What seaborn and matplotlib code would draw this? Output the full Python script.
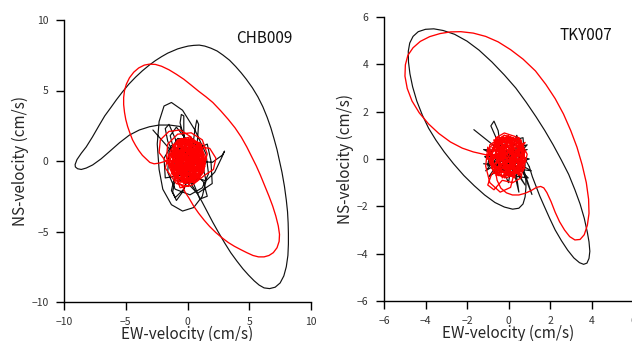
import matplotlib
matplotlib.use("Agg")
import matplotlib.pyplot as plt
import seaborn as sns
import pandas as pd

# ---------------- data (EW, NS) velocity in cm/s ----------------
stations = ["CHB009", "TKY007"]

# CHB009 - black trace: tangled core part and large orbit
chb_black_core = [(-2.8,2.2),(-1.2,0.6),(-0.2,-0.4),(0.8,-0.2),(0.6,0.9),(-0.5,1.0),(-1.1,-0.2),(-0.6,-1.4),(0.5,-1.6),(1.3,-0.7),
    (1.2,0.6),(0.3,1.5),(-0.8,1.6),(-1.5,0.6),(-1.6,-0.8),(-1.0,-2.0),(0.2,-2.4),(1.2,-1.9),(1.7,-0.9),(1.5,0.5),
    (0.6,2.2),(-0.4,3.6),(-1.3,4.15),(-1.9,3.9),(-2.3,2.8),(-2.45,1.2),(-2.3,-0.6),(-2.0,-2.0),(-1.3,-3.1),(-0.4,-3.55),
    (0.5,-3.3),(1.2,-2.5),(1.5,-1.4),(1.2,-0.2),(0.4,0.8),(-0.3,1.7),(-0.6,2.7),(-0.5,3.3),(-0.3,3.2),(-0.3,2.2),
    (-0.2,0.8),(0.0,-0.5),(0.4,0.9),(0.6,2.2),(0.75,2.9),(0.9,2.6),(0.8,1.4),(0.5,0.2),(0.1,-1.1),(-0.4,-2.2),
    (-0.9,-2.8),(-1.2,-2.2),(-0.9,-0.9),(-0.2,0.2),(0.9,0.0),(2.0,-0.1),(2.8,0.4),(3.0,0.7),(2.8,0.3),(2.2,-0.8),
    (1.5,-1.4),(0.6,-1.2),(-0.3,-0.6),(-1.0,0.3),(-1.6,1.4),(-1.8,2.3),(-1.5,2.6),(-1.0,1.6),(-0.4,0.1),(0.4,-1.4),
    (1.0,-2.7),(1.6,-2.5),(1.3,-1.5),(0.4,-0.6),(-0.4,-0.2),(-1.0,-0.9),(-1.3,-2.1),(-1.0,-2.6),(-0.3,-2.0),(0.2,-0.9),
    (-1.8,-1.2),(-1.9,0.2),(-1.3,1.1),(0.1,0.6),(1.6,1.2),(1.9,0.0),(2.0,-1.6),(0.8,-2.3),(-0.6,-1.0),(-1.4,1.8),
    (-0.9,2.4),(0.2,1.2),(0.2,-0.2),(-0.2,1.6),(-0.6,2.45)]
chb_black_orbit = [(-0.6,2.45),(-1.46,2.55),(-2.3,2.55),(-3.08,2.43),(-3.9,2.2),(-4.7,1.84),(-5.5,1.3),(-6.33,0.66),(-7.0,0.15),
    (-7.68,-0.28),(-8.2,-0.5),(-8.6,-0.6),(-8.9,-0.55),(-9.08,-0.42),(-9.1,-0.25),(-8.95,0.1),(-8.6,0.55),(-8.2,1.0),(-7.7,1.7),
    (-7.14,2.55),(-6.7,3.2),(-6.2,3.8),(-5.75,4.35),(-5.25,4.92),(-4.75,5.45),(-4.2,5.95),(-3.65,6.4),(-3.08,6.81),(-2.6,7.12),
    (-2.1,7.4),(-1.6,7.65),(-1.2,7.8),(-0.8,7.95),(-0.4,8.05),(0.05,8.15),(0.5,8.2),(0.95,8.22),(1.4,8.15),(1.9,8.0),
    (2.4,7.8),(2.86,7.52),(3.4,7.15),(3.9,6.7),(4.35,6.25),(4.76,5.8),(5.25,5.2),(5.7,4.55),(6.1,3.85),(6.45,3.1),
    (6.75,2.35),(7.0,1.6),(7.25,0.8),(7.45,0.0),(7.65,-0.8),(7.85,-1.8),(8.0,-2.77),(8.1,-3.6),(8.15,-4.4),(8.17,-5.13),
    (8.17,-5.9),(8.13,-6.7),(8.0,-7.5),(7.8,-8.15),(7.5,-8.65),(7.1,-8.95),(6.65,-9.05),(6.2,-9.0),(5.8,-8.8),(5.4,-8.5),
    (4.95,-8.1),(4.49,-7.65),(4.0,-7.1),(3.5,-6.5),(3.0,-5.8),(2.5,-5.05),(2.05,-4.35),(1.6,-3.6),(1.15,-2.85),(0.75,-2.25),
    (0.43,-1.82),(0.0,-1.0),(-0.5,0.0)]

# CHB009 - red trace
chb_red_core = [(-1.2,0.3),(-0.6,1.4),(0.5,1.5),(1.2,0.6),(1.1,-0.7),(0.3,-1.4),(-0.8,-1.2),(-1.3,-0.2),(-0.9,0.9),(0.1,1.3),
    (0.9,0.9),(1.3,-0.1),(0.8,-1.1),(-0.3,-1.5),(-1.1,-0.8),(-1.2,0.5),(-0.4,1.5),(0.7,1.3),(1.2,0.2),(0.6,-0.6),
    (-0.2,-0.2),(-0.9,0.4),(-0.7,1.1),(0.2,0.9),(0.6,0.1),(0.2,-0.9),(-0.7,-0.9),(-1.0,0.0),(-0.5,0.8),(0.4,0.6),
    (0.8,-0.3),(0.4,-1.2),(-0.5,-1.3),(-1.3,-0.6),(-1.1,0.7),(-0.2,1.6),(0.9,1.2),(1.3,0.3),(1.0,-0.9),(0.0,-1.2),
    (-0.8,-0.4),(-0.6,0.5),(0.1,0.6),(0.5,-0.2),(0.0,-0.7),(-0.6,-0.2),(-0.3,0.4),(0.3,0.3),(0.2,-0.4),(-0.3,-0.5),
    (-1.0,-1.2),(-1.4,0.1),(-0.9,1.3),(0.3,1.6),(1.1,1.0),(1.4,-0.4),(0.6,-1.4),(-0.6,-1.5),(-1.2,-0.9),(-0.5,-0.1),
    (0.3,0.8),(1.0,0.4),(0.9,-0.6),(0.1,-1.0),(-0.7,-0.6),(-0.8,0.6),(0.0,1.1),(0.7,0.7),(0.7,-0.4),(-0.1,-0.4),
    (-1.0,0.9),(-0.3,1.2),(0.6,1.0),(1.1,-0.3),(0.5,-1.0),(-0.4,-1.0),(-1.1,-0.3),(-1.3,0.6),(-0.7,1.5),(0.4,1.2),
    (1.2,0.9),(1.3,-0.7),(0.8,-1.4),(-0.2,-1.3),(-0.9,-0.7),(-0.4,0.1),(0.4,0.1),(0.6,-0.7),(0.0,-1.5),(-0.9,-1.4),
    (-1.4,-0.4),(-1.1,0.4),(-0.4,0.9),(0.5,0.4),(0.3,-0.3),(-0.4,-0.8),(-0.9,-0.1),(-0.5,0.6),(0.2,1.4),(1.0,1.3),
    (1.4,0.1),(1.0,-0.4),(0.2,-0.6),(-0.5,0.2),(-1.2,1.1),(-0.5,1.6),(0.3,1.0),(0.9,-0.1),(0.9,-1.0),(0.2,-1.3),
    (-0.6,-0.9),(-1.2,-0.1),(-1.0,0.6),(-0.1,0.7),(0.8,0.9),(1.2,-0.5),(0.4,-1.5),(-0.7,-1.2),(-1.3,-0.9),(-0.8,0.2),
    (0.0,0.3),(0.6,0.5),(0.1,-0.1),(-0.4,-0.3)]
chb_red_chords = [(1.3,0.4),(-1.1,-0.6),(0.2,1.5),(0.4,-1.4),(-1.3,0.8),(1.2,-0.9),(-0.5,1.5),(-0.3,-1.5),(1.3,1.0),(-1.4,-0.2),
    (0.8,1.4),(0.9,-1.3),(-1.2,1.2),(0.0,-1.1),(1.0,0.8),(-1.0,-1.3),(-0.1,1.2),(1.4,-0.2),(-1.3,0.3),(0.6,-0.9),
    (-0.6,1.0),(1.1,0.1),(-0.8,-0.9),(0.3,1.1),(0.5,-1.5),(-1.2,-0.4),(0.9,1.1),(-0.2,-1.0),(-0.9,1.4),(1.3,-0.6),
    (-0.7,-0.5),(0.7,0.3),(-0.4,-1.4),(-1.1,1.0),(1.0,-1.2),(0.1,1.6),(-1.4,0.5),(0.8,-0.2),(-0.2,0.5),(1.2,1.2),
    (-1.0,-1.0),(0.4,1.4),(0.2,-1.3),(-1.3,-0.1),(1.2,0.5),(-0.5,-1.2),(-0.7,0.8),(1.1,-0.8),(0.0,1.4),(-1.2,0.6)]
chb_red_loops = [(-0.38,-1.82),(-1.0,-1.3),(-1.5,-0.4),(-1.4,0.7),(-0.8,1.5),(0.2,1.7),(1.0,1.2),(1.5,0.2),(1.3,-0.8),(0.6,-1.5),
    (-0.3,-1.6),(-0.5,-1.0),(-1.6,-0.2),(-2.3,0.6),(-2.2,1.5),(-1.5,2.1),(-0.6,2.2),(0.3,1.7),(0.6,0.6),(0.1,-0.6),
    (-0.8,-1.4),(-0.6,-1.9),(0.4,-1.7),(1.4,-1.0),(2.1,-0.6),(2.3,0.2),(1.8,0.9),(0.8,1.0),(-0.3,0.3),(-1.2,-0.5),
    (-1.7,0.2),(-1.6,1.2),(-0.8,1.9),(0.3,2.0),(1.2,1.5),(1.6,0.5),(1.3,-0.5),(0.3,-1.0),(0.1,-1.8),(-0.9,-1.6),
    (-1.8,-0.5),(-1.5,0.5),(-0.6,-0.3),(-1.5,0.1)]
chb_red_orbit = [(-1.5,0.1),(-1.9,-0.05),(-2.3,-0.15),(-2.7,-0.2),(-3.05,-0.1),(-3.35,0.15),(-3.65,0.4),(-3.95,0.75),(-4.2,1.1),
    (-4.45,1.5),(-4.65,1.95),(-4.85,2.45),(-5.0,2.95),(-5.1,3.45),(-5.17,4.0),(-5.17,4.5),(-5.1,5.0),(-4.95,5.45),(-4.7,5.9),
    (-4.35,6.3),(-3.95,6.6),(-3.5,6.8),(-3.08,6.87),(-2.6,6.85),(-2.1,6.72),(-1.5,6.47),(-0.9,6.15),(-0.3,5.8),(0.3,5.38),
    (0.9,4.95),(1.5,4.55),(2.05,4.15),(2.7,3.55),(3.3,2.95),(3.85,2.35),(4.35,1.7),(4.8,1.0),(5.2,0.3),(5.57,-0.35),
    (5.9,-1.0),(6.25,-1.75),(6.6,-2.5),(6.9,-3.2),(7.15,-3.9),(7.35,-4.6),(7.45,-5.2),(7.42,-5.7),(7.25,-6.15),(6.95,-6.5),
    (6.6,-6.7),(6.2,-6.8),(5.75,-6.8),(5.3,-6.7),(4.8,-6.5),(4.3,-6.28),(3.8,-6.05),(3.3,-5.78),(2.8,-5.45),(2.3,-5.08),
    (1.8,-4.65),(1.35,-4.2),(0.9,-3.7),(0.5,-3.2),(0.1,-2.6),(-0.2,-2.2),(-0.38,-1.82)]

# TKY007 - black trace
tky_black_core = [(-1.67,1.24),(0.1,0.0),(1.1,-0.5),(0.3,-0.4),(-1.2,-0.2),(0.0,-0.3),(0.9,0.6),(-0.3,0.3),(-1.1,-0.5),(0.2,0.2),
    (1.0,0.0),(0.3,-0.2),(0.5,-1.4),(0.2,-0.3),(-0.6,0.9),(-0.85,1.4),(-0.7,1.6),(-0.5,1.2),(-0.4,0.6),(-0.2,-0.6),
    (0.0,-1.0),(0.2,0.1),(0.6,0.7),(-0.9,0.3),(-1.0,-0.3),(0.4,0.4),(1.13,-1.5),(0.5,-0.1),(-0.2,0.7),(0.7,0.9),
    (0.8,-0.3),(-0.7,-0.6),(-0.3,0.0),(0.9,0.4),(-1.15,0.1),(0.1,-0.7),(0.95,-0.8),(-0.2,0.2),(-0.95,-0.75),(0.6,0.2),
    (0.4,1.0),(0.0,0.1),(0.8,-1.1),(0.1,-0.2),(-1.2,0.4),(0.6,0.3),(1.0,-0.32)]
tky_black_orbit = [(1.0,-0.32),(1.15,-0.75),(1.33,-1.16),(1.5,-1.55),(1.7,-1.95),(1.98,-2.5),(2.25,-3.0),(2.55,-3.45),(2.85,-3.85),
    (3.15,-4.18),(3.42,-4.38),(3.62,-4.45),(3.78,-4.4),(3.88,-4.2),(3.92,-3.9),(3.88,-3.5),(3.8,-3.1),(3.65,-2.5),(3.45,-1.9),
    (3.2,-1.3),(2.9,-0.65),(2.55,-0.05),(2.15,0.6),(1.75,1.2),(1.33,1.78),(0.85,2.4),(0.35,3.0),(-0.2,3.55),(-0.8,4.1),
    (-1.42,4.6),(-2.0,4.98),(-2.6,5.27),(-3.15,5.43),(-3.6,5.5),(-4.0,5.48),(-4.35,5.38),(-4.6,5.18),(-4.76,4.9),(-4.83,4.55),
    (-4.82,4.1),(-4.75,3.6),(-4.62,3.05),(-4.42,2.45),(-4.15,1.85),(-3.85,1.3),(-3.5,0.8),(-3.1,0.3),(-2.65,-0.2),(-2.15,-0.7),
    (-1.65,-1.13),(-1.15,-1.52),(-0.65,-1.84),(-0.2,-2.03),(0.2,-2.12),(0.5,-2.08),(0.7,-1.9),(0.8,-1.6),(0.84,-1.2),(0.84,-0.88),
    (0.6,-0.2),(-0.5,0.4),(0.2,-0.5),(0.0,0.2)]

# TKY007 - red trace
tky_red_core = [(-0.8,0.4),(-0.3,0.9),(0.4,0.8),(0.7,0.2),(0.5,-0.5),(-0.1,-0.6),(-0.7,-0.3),(-0.8,0.3),(-0.4,0.8),(0.2,0.9),
    (0.7,0.5),(0.7,-0.2),(0.2,-0.6),(-0.5,-0.5),(-0.9,0.0),(-0.6,0.7),(0.1,0.7),(0.5,0.1),(0.2,-0.4),(-0.4,-0.2),
    (-0.5,0.4),(0.0,0.5),(0.4,-0.1),(-0.1,-0.5),(-0.6,-0.1),(-0.3,0.6),(0.5,0.7),(0.8,0.0),(0.4,-0.6),(-0.3,-0.7),
    (-0.8,-0.4),(-0.9,0.5),(-0.2,1.0),(0.6,0.8),(0.8,-0.1),(0.3,-0.5),(-0.2,-0.3),(-0.4,0.2),(0.1,0.3),(0.3,-0.2),
    (-0.7,0.8),(-0.1,0.8),(0.6,0.4),(0.6,-0.5),(-0.1,-0.8),(-0.7,-0.6),(-1.0,0.1),(-0.5,0.5),(0.2,0.5),(0.3,0.0),
    (-0.2,-0.1),(-0.6,0.3),(-0.2,0.9),(0.4,0.6),(0.7,-0.3),(0.1,-0.7),(-0.5,-0.7),(-0.8,-0.1),(-0.4,0.7),(0.3,0.8),
    (0.8,0.3),(0.5,-0.3),(-0.1,-0.3),(-0.5,0.1),(-0.1,0.4),(0.2,0.1),(-0.3,-0.4),(-0.9,-0.2),(-0.6,0.9),(0.0,0.9),
    (0.5,0.5),(0.1,-0.1),(-0.4,0.0)]
tky_red_chords = [(0.8,0.3),(-0.7,-0.4),(0.1,0.95),(0.3,-0.75),(-0.8,0.5),(0.7,-0.5),(-0.3,0.95),(-0.2,-0.8),(0.8,0.7),(-0.9,-0.1),
    (0.5,0.9),(0.5,-0.7),(-0.7,0.8),(0.0,-0.6),(0.6,0.5),(-0.6,-0.7),(-0.1,0.8),(0.85,-0.1),(-0.8,0.2),(0.4,-0.5),
    (-0.4,0.7),(0.7,0.1),(-0.5,-0.5),(0.2,0.7),(0.3,-0.8),(-0.8,-0.3),(0.6,0.8),(-0.1,-0.6),(-0.6,0.9),(0.8,-0.4),
    (-0.4,-0.3),(0.4,0.2),(-0.3,-0.8),(-0.7,0.6),(0.6,-0.7),(0.0,1.0),(-0.9,0.3)]
tky_red_loops = [(-0.61,-0.6),(-0.9,0.2),(-1.0,0.5),(-1.1,-0.3),(-0.9,-1.0),(-0.4,-1.4),(0.1,-1.2),(0.3,-0.5),(0.0,0.3),(-0.6,0.9),
    (-0.2,1.1),(0.5,0.9),(0.9,0.2),(0.7,-0.5),(-0.8,-0.6),(-1.0,-1.1),(-0.7,-1.3),(-0.3,-0.9),(0.2,-1.0),(0.6,-0.8),
    (0.8,0.0),(0.5,0.8),(-0.2,1.0),(-0.9,0.6),(-1.0,0.0),(-0.5,0.1),(-1.1,0.18)]
tky_red_orbit = [(-1.1,0.18),(-1.7,0.3),(-2.23,0.46),(-2.8,0.72),(-3.36,1.08),(-3.85,1.48),(-4.3,1.95),(-4.65,2.45),(-4.88,2.98),
    (-4.99,3.5),(-4.97,3.98),(-4.85,4.38),(-4.6,4.7),(-4.25,4.97),(-3.8,5.17),(-3.3,5.3),(-2.8,5.37),(-2.3,5.38),(-1.7,5.32),
    (-1.1,5.18),(-0.5,4.95),(0.1,4.62),(0.7,4.22),(1.3,3.72),(1.8,3.15),(2.25,2.55),(2.65,1.9),(3.0,1.2),(3.3,0.5),
    (3.55,-0.25),(3.75,-1.0),(3.86,-1.7),(3.88,-2.3),(3.8,-2.8),(3.65,-3.2),(3.45,-3.4),(3.2,-3.42),(2.95,-3.28),(2.7,-3.0),
    (2.46,-2.65),(2.25,-2.25),(2.05,-1.8),(1.85,-1.42),(1.7,-1.22),(1.55,-1.16),(1.35,-1.2),(1.1,-1.33),(0.8,-1.45),(0.5,-1.52),
    (0.19,-1.52),(-0.1,-1.43),(-0.37,-1.23),(-0.55,-0.9),(-0.61,-0.6)]

chb_ticks = [-10, -5, 0, 5, 10]
tky_ticks = [-6, -4, -2, 0, 2, 4, 6]
x_label = "EW-velocity (cm/s)"
y_label = "NS-velocity (cm/s)"

# ---------------- style ----------------
sns.set_style("ticks")
plt.rcParams["font.family"] = ["Noto Sans CJK JP", "DejaVu Sans"]
plt.rcParams["axes.unicode_minus"] = True

fig = plt.figure(figsize=(6.32, 3.41), dpi=100)
ax1 = fig.add_axes([64/632, 39/341, 247/632, 282/341])
ax2 = fig.add_axes([384/632, 40/341, 249/632, 284/341])

BLACK = "#111111"
RED = "#ff0000"

def line(ax, pts, col, lw):
    df = pd.DataFrame(pts, columns=["ew", "ns"])
    sns.lineplot(data=df, x="ew", y="ns", sort=False, estimator=None,
                 color=col, lw=lw, ax=ax)

def draw(ax, blacks, reds, ticks, name):
    for pts in blacks:
        line(ax, pts, BLACK, 0.85)
    for pts in reds:
        line(ax, pts, RED, 0.95)
    lim = (ticks[0], ticks[-1])
    ax.set_xlim(lim)
    ax.set_ylim(lim)
    ax.set_xticks(ticks)
    ax.set_yticks(ticks)
    sns.despine(ax=ax)
    for s in ["left", "bottom"]:
        ax.spines[s].set_linewidth(1.0)
        ax.spines[s].set_color("#000000")
    ax.tick_params(direction="out", length=6, width=1.0, color="#000000",
                   labelsize=7.5, labelcolor="#333333", pad=5)
    ax.set_xlabel(x_label, fontsize=11, labelpad=-1)
    ax.set_ylabel(y_label, fontsize=11, labelpad=2)
    ax.text(0.81, 0.935, name, transform=ax.transAxes, fontsize=11,
            ha="center", va="center", color="#111111")

draw(ax1, [chb_black_core, chb_black_orbit],
     [chb_red_loops, chb_red_orbit, chb_red_core, chb_red_chords], chb_ticks, stations[0])
draw(ax2, [tky_black_core, tky_black_orbit],
     [tky_red_loops, tky_red_orbit, tky_red_core, tky_red_chords], tky_ticks, stations[1])

fig.savefig("out.png", dpi=100)
